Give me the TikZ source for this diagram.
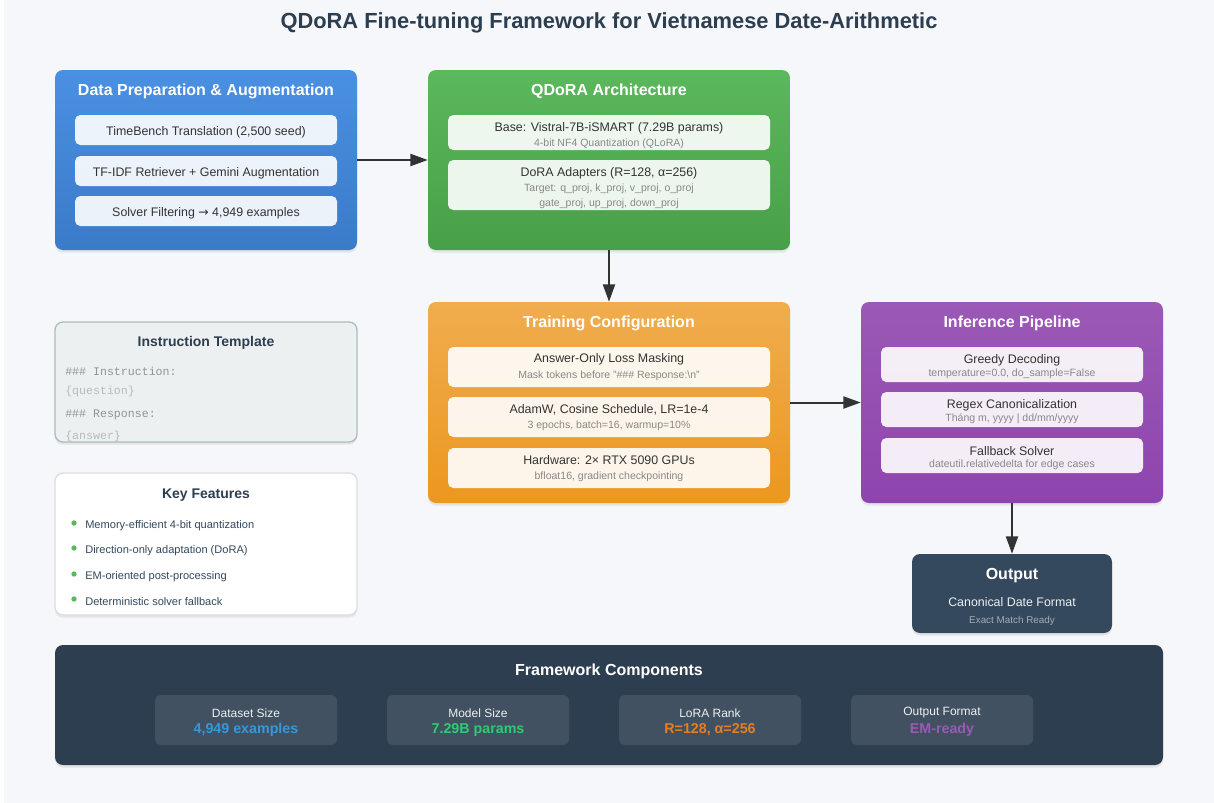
\documentclass[tikz,border=0pt]{standalone}
\usepackage{fontspec}
\setmainfont{Liberation Sans}
\setmonofont{Liberation Mono}
\newfontfamily\symfont{DejaVu Sans}
\usepackage{xcolor}
\usepackage{tikz}
\usetikzlibrary{arrows.meta, positioning, shadows}
\definecolor{bgcol}{HTML}{F5F7FA}
\definecolor{inkcol}{HTML}{2C3E50}
\definecolor{txtcol}{HTML}{333333}
\definecolor{notecol}{HTML}{888888}
\definecolor{arrcol}{HTML}{333333}
\definecolor{blueA}{HTML}{4A90E2}
\definecolor{blueB}{HTML}{3A7BC8}
\definecolor{greenA}{HTML}{5CB85C}
\definecolor{greenB}{HTML}{47A047}
\definecolor{orangeA}{HTML}{F0AD4E}
\definecolor{orangeB}{HTML}{EC971F}
\definecolor{purpleA}{HTML}{9B59B6}
\definecolor{purpleB}{HTML}{8E44AD}
\definecolor{outcol}{HTML}{34495E}
\definecolor{tmplcol}{HTML}{ECF0F1}
\definecolor{tmplline}{HTML}{AEBCBA}
\definecolor{featline}{HTML}{DDDDDD}
\definecolor{dotcol}{HTML}{5CB85C}
\definecolor{valblue}{HTML}{3498DB}
\definecolor{valgreen}{HTML}{2ECC71}
\definecolor{valorange}{HTML}{E67E22}
\definecolor{valpurple}{HTML}{9B59B6}

\begin{document}
\begin{tikzpicture}[x=0.75pt, y=-0.75pt,
  wh/.style 2 args={minimum width=#1*0.75pt, minimum height=#2*0.75pt},
  panel/.style={rectangle, rounded corners=6pt, inner sep=0pt,
                drop shadow={opacity=0.15, shadow xshift=0pt, shadow yshift=-2pt}},
  subbox/.style={rectangle, rounded corners=4pt, inner sep=0pt,
                 fill=white, fill opacity=0.9},
  txt/.style={yshift=-1.5pt},
  headtxt/.style={txt, font=\bfseries\fontsize{12}{14}\selectfont, text=white},
  cardtitle/.style={txt, font=\bfseries\fontsize{10.5}{12}\selectfont, text=inkcol},
  maintxt/.style={txt, font=\fontsize{9.3}{11}\selectfont, text=txtcol},
  notetxt/.style={txt, font=\fontsize{7.9}{9}\selectfont, text=notecol},
  codetxt/.style={txt, anchor=west, inner sep=0pt, font=\ttfamily\fontsize{8.7}{10}\selectfont},
  feattxt/.style={txt, anchor=west, inner sep=0pt, font=\fontsize{8.3}{10}\selectfont, text=outcol},
  dot/.style={circle, fill=dotcol, minimum size=4pt, inner sep=0pt},
  arr/.style={-{Triangle[length=13pt, width=9pt]}, line width=1.5pt, draw=arrcol},
]
\useasboundingbox (0,0) rectangle (1214,803);
\fill[white] (0,0) rectangle (1214,803);
\fill[bgcol] (4,0) rectangle (1214,803);

\node[txt, font=\bfseries\fontsize{16.4}{19}\selectfont, text=inkcol] (title) at (609,21)
  {QDoRA Fine-tuning Framework for Vietnamese Date-Arithmetic};

% data preparation
\node[panel, wh={302}{180}, top color=blueA, bottom color=blueB] (prep) at (206,160) {};
\node[headtxt] (prepT) at (206,89) {Data Preparation \& Augmentation};
\node[subbox, wh={262}{30}] (seed) at (206,130) {};
\node[maintxt] (seedA) at (206,130) {TimeBench Translation (2,500 seed)};
\node[subbox, wh={262}{30}] (aug) at (206,171) {};
\node[maintxt] (augA) at (206,171) {TF-IDF Retriever + Gemini Augmentation};
\node[subbox, wh={262}{30}] (filt) at (206,211) {};
\node[maintxt] (filtA) at (206,211) {Solver Filtering {\symfont →} 4,949 examples};

% QDoRA architecture
\node[panel, wh={362}{180}, top color=greenA, bottom color=greenB] (arch) at (609,160) {};
\node[headtxt] (archT) at (609,89) {QDoRA Architecture};
\node[subbox, wh={322}{35}] (base) at (609,132.5) {};
\node[maintxt] (baseA) at (609,126) {Base: Vistral-7B-iSMART (7.29B params)};
\node[notetxt] (baseB) at (609,142) {4-bit NF4 Quantization (QLoRA)};
\node[subbox, wh={322}{50}] (dora) at (609,185) {};
\node[maintxt] (doraA) at (609,171) {DoRA Adapters (R=128, α=256)};
\node[notetxt] (doraB) at (609,187) {Target: q\_proj, k\_proj, v\_proj, o\_proj};
\node[notetxt] (doraC) at (609,202) {gate\_proj, up\_proj, down\_proj};

% training configuration
\node[panel, wh={362}{201}, top color=orangeA, bottom color=orangeB] (train) at (609,402.5) {};
\node[headtxt] (trainT) at (609,321) {Training Configuration};
\node[subbox, wh={322}{40}] (mask) at (609,367) {};
\node[maintxt] (maskA) at (609,357) {Answer-Only Loss Masking};
\node[notetxt] (maskB) at (609,374) {Mask tokens before "\#\#\# Response:\textbackslash n"};
\node[subbox, wh={322}{40}] (optim) at (609,417) {};
\node[maintxt] (optimA) at (609,408) {AdamW, Cosine Schedule, LR=1e-4};
\node[notetxt] (optimB) at (609,424) {3 epochs, batch=16, warmup=10\%};
\node[subbox, wh={322}{40}] (hw) at (609,468) {};
\node[maintxt] (hwA) at (609,458) {Hardware: 2× RTX 5090 GPUs};
\node[notetxt] (hwB) at (609,475) {bfloat16, gradient checkpointing};

% inference pipeline
\node[panel, wh={302}{201}, top color=purpleA, bottom color=purpleB] (infer) at (1012,402.5) {};
\node[headtxt] (inferT) at (1012,321) {Inference Pipeline};
\node[subbox, wh={262}{35}] (greedy) at (1012,364.5) {};
\node[maintxt] (greedyA) at (1012,358) {Greedy Decoding};
\node[notetxt] (greedyB) at (1012,372) {temperature=0.0, do\_sample=False};
\node[subbox, wh={262}{35}] (regex) at (1012,409.5) {};
\node[maintxt] (regexA) at (1012,403) {Regex Canonicalization};
\node[notetxt] (regexB) at (1012,417) {Tháng m, yyyy | dd/mm/yyyy};
\node[subbox, wh={262}{35}] (fallb) at (1012,455.5) {};
\node[maintxt] (fallbA) at (1012,449) {Fallback Solver};
\node[notetxt] (fallbB) at (1012,463) {dateutil.relativedelta for edge cases};

% output
\node[panel, wh={200}{79}, fill=outcol] (out) at (1012,593.5) {};
\node[headtxt] (outT) at (1012,574) {Output};
\node[txt, font=\fontsize{9.3}{11}\selectfont, text=tmplcol] (outA) at (1012,600) {Canonical Date Format};
\node[txt, font=\fontsize{7.4}{9}\selectfont, text=tmplcol!60!outcol] (outB) at (1012,619) {Exact Match Ready};

% instruction template
\node[panel, wh={302}{120}, fill=tmplcol, draw=tmplline, line width=1pt] (tmpl) at (206,382) {};
\node[cardtitle] (tmplT) at (206,341) {Instruction Template};
\node[codetxt, text=black!42] (instr) at (65,369) {\#\#\# Instruction:};
\node[codetxt, text=black!27] (quest) at (65,389) {\{question\}};
\node[codetxt, text=black!42] (resp) at (65,413) {\#\#\# Response:};
\node[codetxt, text=black!27] (answ) at (65,434) {\{answer\}};

% key features
\node[panel, wh={302}{142}, fill=white, draw=featline, line width=1pt] (feat) at (206,544) {};
\node[cardtitle] (featT) at (206,493) {Key Features};
\node[dot] (d1) at (74,523) {};
\node[feattxt] (f1) at (85,524) {Memory-efficient 4-bit quantization};
\node[dot] (d2) at (74,548) {};
\node[feattxt] (f2) at (85,549) {Direction-only adaptation (DoRA)};
\node[dot] (d3) at (74,574) {};
\node[feattxt] (f3) at (85,575) {EM-oriented post-processing};
\node[dot] (d4) at (74,599) {};
\node[feattxt] (f4) at (85,600) {Deterministic solver fallback};

% framework components
\node[panel, wh={1108}{120}, fill=inkcol] (comp) at (609,705) {};
\node[headtxt] (compT) at (609,669) {Framework Components};
\node[subbox, wh={182}{50}, fill opacity=0.1] (cData) at (246,720) {};
\node[txt, font=\fontsize{9}{11}\selectfont, text=tmplcol] (cDataA) at (246,711) {Dataset Size};
\node[txt, font=\bfseries\fontsize{10.7}{13}\selectfont, text=valblue] (cDataB) at (246,728) {4,949 examples};
\node[subbox, wh={182}{50}, fill opacity=0.1] (cModel) at (478,720) {};
\node[txt, font=\fontsize{9}{11}\selectfont, text=tmplcol] (cModelA) at (478,711) {Model Size};
\node[txt, font=\bfseries\fontsize{10.7}{13}\selectfont, text=valgreen] (cModelB) at (478,728) {7.29B params};
\node[subbox, wh={182}{50}, fill opacity=0.1] (cRank) at (710,720) {};
\node[txt, font=\fontsize{9}{11}\selectfont, text=tmplcol] (cRankA) at (710,711) {LoRA Rank};
\node[txt, font=\bfseries\fontsize{10.7}{13}\selectfont, text=valorange] (cRankB) at (710,728) {R=128, α=256};
\node[subbox, wh={182}{50}, fill opacity=0.1] (cFmt) at (942,720) {};
\node[txt, font=\fontsize{9}{11}\selectfont, text=tmplcol] (cFmtA) at (942,711) {Output Format};
\node[txt, font=\bfseries\fontsize{10.7}{13}\selectfont, text=valpurple] (cFmtB) at (942,728) {EM-ready};

% flow
\draw[arr] (prep) -- (arch);
\draw[arr] (arch) -- (train);
\draw[arr] (train) -- (infer);
\draw[arr] (infer) -- (out);
\end{tikzpicture}
\end{document}
